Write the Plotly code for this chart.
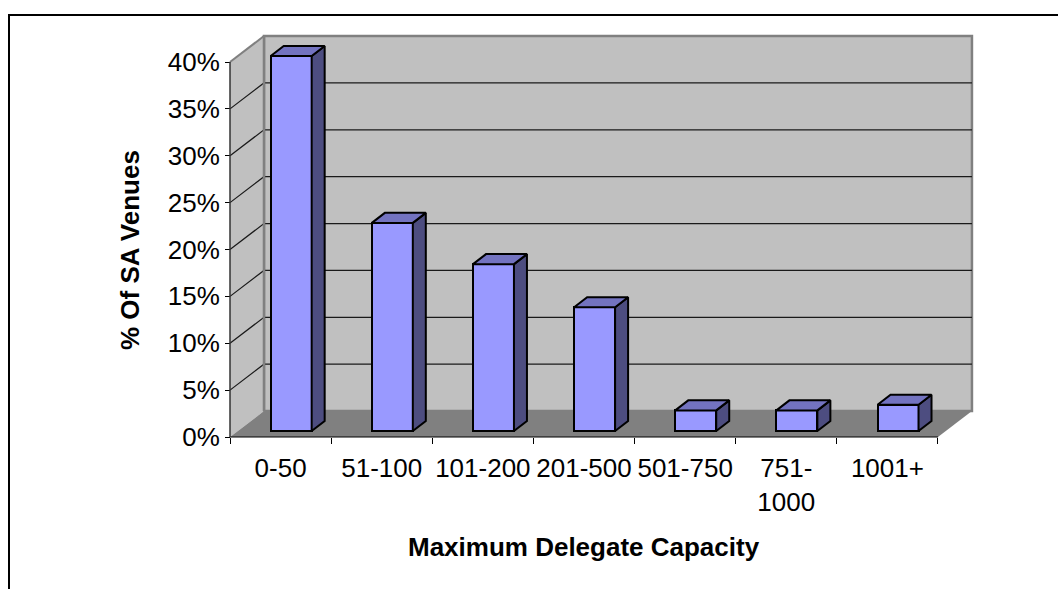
import plotly.graph_objects as go

# ---------------- data ----------------
categories = ["0-50", "51-100", "101-200", "201-500", "501-750", "751-<br>1000", "1001+"]
share_of_venues = [0.40, 0.222, 0.178, 0.132, 0.022, 0.022, 0.028]
y_tick_values = [0.0, 0.05, 0.10, 0.15, 0.20, 0.25, 0.30, 0.35, 0.40]
y_tick_labels = ["0%", "5%", "10%", "15%", "20%", "25%", "30%", "35%", "40%"]
x_title = "Maximum Delegate Capacity"
y_title = "% Of SA Venues"

# ---------------- 3D styling (oblique projection offsets, in axis units) ----------------
DX, DY = 0.336, 0.0277          # depth of the chart box
BAR_SHIFT, BAR_W = 0.105, 0.405 # front face position / width inside a category
BAR_BASE = 0.0064               # bar front face sits slightly behind the front edge
BDX, BDY = 0.1285, 0.0107       # depth of each bar
FONT = "Arial, Liberation Sans, sans-serif"
FS = 26

n = len(categories)
x_lo, x_hi = -0.5, n - 0.5
top = y_tick_values[-1]
idx = list(range(n))

shapes = []
# back wall
shapes.append(dict(type="path", layer="below", xref="x", yref="y",
                   path=f"M {x_lo+DX},{DY} L {x_hi+DX},{DY} L {x_hi+DX},{top+DY} L {x_lo+DX},{top+DY} Z",
                   fillcolor="#C0C0C0", line=dict(color="#808080", width=2.5)))
# left wall
shapes.append(dict(type="path", layer="below", xref="x", yref="y",
                   path=f"M {x_lo},0 L {x_lo+DX},{DY} L {x_lo+DX},{top+DY} L {x_lo},{top} Z",
                   fillcolor="#C0C0C0", line=dict(width=0)))
# floor
shapes.append(dict(type="path", layer="below", xref="x", yref="y",
                   path=f"M {x_lo},0 L {x_hi},0 L {x_hi+DX},{DY} L {x_lo+DX},{DY} Z",
                   fillcolor="#808080", line=dict(width=0)))
# grid lines (left wall diagonal + back wall horizontal)
for v in y_tick_values[1:-1]:
    shapes.append(dict(type="path", layer="below", xref="x", yref="y",
                       path=f"M {x_lo},{v} L {x_lo+DX},{v+DY} L {x_hi+DX},{v+DY}",
                       line=dict(color="#1a1a1a", width=1.2)))
# wall edges
shapes.append(dict(type="line", layer="below", xref="x", yref="y",
                   x0=x_lo, y0=top, x1=x_lo+DX, y1=top+DY, line=dict(color="#808080", width=2)))
shapes.append(dict(type="line", layer="below", xref="x", yref="y",
                   x0=x_lo+DX, y0=DY, x1=x_lo+DX, y1=top+DY, line=dict(color="#808080", width=2.5)))
# front axis lines
shapes.append(dict(type="line", layer="above", xref="x", yref="y",
                   x0=x_lo, y0=0, x1=x_hi, y1=0, line=dict(color="#000000", width=1.2)))
shapes.append(dict(type="line", layer="above", xref="x", yref="y",
                   x0=x_lo, y0=0, x1=x_lo, y1=top, line=dict(color="#333333", width=1.5)))

fig = go.Figure()

# front faces of the bars
bar_x = [i + BAR_SHIFT for i in idx]
fig.add_trace(go.Bar(x=bar_x, y=share_of_venues, base=[BAR_BASE] * n, width=BAR_W,
                     marker=dict(color="#9999FF", line=dict(color="black", width=2)),
                     hoverinfo="skip"))

# side and top faces
side_x, side_y, top_x, top_y = [], [], [], []
for xc, v in zip(bar_x, share_of_venues):
    xl, xr = xc - BAR_W / 2, xc + BAR_W / 2
    b, t = BAR_BASE, BAR_BASE + v
    side_x += [xr, xr + BDX, xr + BDX, xr, xr, None]
    side_y += [b, b + BDY, t + BDY, t, b, None]
    top_x += [xl, xr, xr + BDX, xl + BDX, xl, None]
    top_y += [t, t, t + BDY, t + BDY, t, None]
fig.add_trace(go.Scatter(x=side_x, y=side_y, mode="lines", fill="toself",
                         fillcolor="#4D4D80", line=dict(color="black", width=2),
                         hoverinfo="skip"))
fig.add_trace(go.Scatter(x=top_x, y=top_y, mode="lines", fill="toself",
                         fillcolor="#7373C0", line=dict(color="black", width=2),
                         hoverinfo="skip"))

# layout in pixels
L, R, T, B = 222, 975, 30, 441
W, H = 1058, 589
ux = 101.14   # px per category
uy = 937.5    # px per unit of share
x_range = [x_lo - (230 - L) / ux, x_lo + (R - 230) / ux]
y_range = [-(B - 437) / uy, -(B - 437) / uy + (B - T) / uy]
PW, PH = R - L, B - T

# chart-area border (top-left corner at px (9, 15), running off the page)
shapes.append(dict(type="rect", xref="paper", yref="paper",
                   x0=(9 - L) / PW, y0=(B - 620) / PH, x1=(1090 - L) / PW, y1=(B - 15) / PH,
                   line=dict(color="black", width=2), fillcolor="rgba(0,0,0,0)"))

fig.update_layout(
    width=W, height=H,
    margin=dict(l=L, r=W - R, t=T, b=H - B, pad=0),
    paper_bgcolor="white", plot_bgcolor="white",
    showlegend=False, bargap=0,
    font=dict(family=FONT, color="black", size=FS),
    shapes=shapes,
    xaxis=dict(range=x_range, anchor="free", position=(B - 437) / PH,
               tickmode="array", tickvals=idx, ticktext=categories,
               ticks="outside", ticklen=8, tickcolor="rgba(0,0,0,0)",
               tickfont=dict(family=FONT, size=FS, color="black"),
               showgrid=False, zeroline=False, showline=False,
               minor=dict(tickmode="array", tickvals=[i - 0.5 for i in range(n + 1)],
                          ticks="outside", ticklen=6, tickwidth=1, tickcolor="black",
                          showgrid=False)),
    yaxis=dict(range=y_range, anchor="free", position=(230 - L) / PW,
               tickmode="array", tickvals=y_tick_values, ticktext=y_tick_labels,
               ticks="outside", ticklen=5, tickwidth=1, tickcolor="black",
               tickfont=dict(family=FONT, size=FS, color="black"),
               showgrid=False, zeroline=False, showline=False),
    annotations=[
        dict(text=f"<b>{x_title}</b>", xref="paper", yref="paper",
             x=(584 - L) / PW, y=(B - 547) / PH, showarrow=False,
             font=dict(family=FONT, size=FS, color="black"), xanchor="center", yanchor="middle"),
        dict(text=f"<b>{y_title}</b>", xref="paper", yref="paper", textangle=-90,
             x=(130 - L) / PW, y=(B - 250) / PH, showarrow=False,
             font=dict(family=FONT, size=FS, color="black"), xanchor="center", yanchor="middle"),
    ],
)

fig.write_html("out.html")
